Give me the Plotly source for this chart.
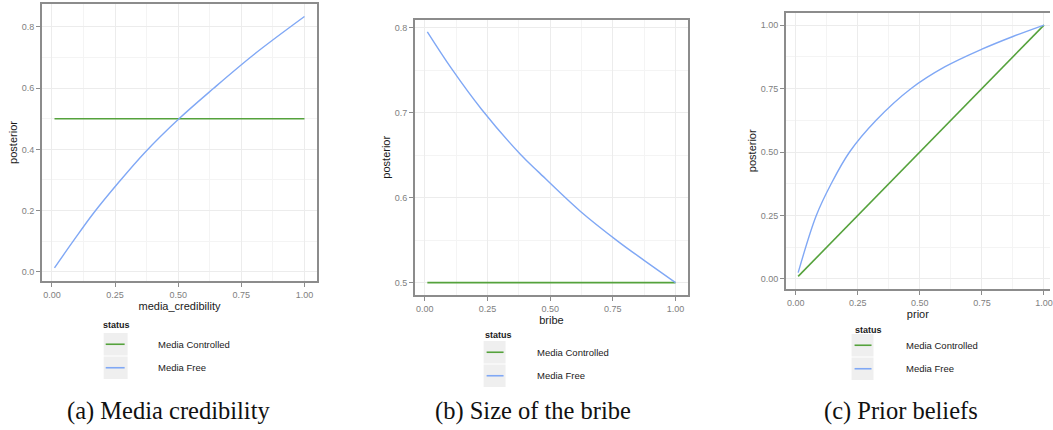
import plotly.graph_objects as go

W, H = 1053, 430

# ---------------- data ----------------
series_names = ["Media Controlled", "Media Free"]
colors = {"Media Controlled": "#55a23c", "Media Free": "#80a8f5"}

# (a) media credibility
cred_controlled_x = [0.01, 1.0]
cred_controlled_y = [0.5, 0.5]
cred_free_x = [0.01, 0.084, 0.165, 0.262, 0.368, 0.503, 0.638, 0.80, 1.0]
cred_free_y = [0.013, 0.1, 0.192, 0.29, 0.39, 0.5, 0.598, 0.71, 0.834]

# (b) size of the bribe
bribe_controlled_x = [0.01, 1.0]
bribe_controlled_y = [0.5, 0.5]
bribe_free_x = [0.01, 0.106, 0.226, 0.381, 0.454, 0.62, 0.773, 0.876, 1.0]
bribe_free_y = [0.795, 0.752, 0.704, 0.651, 0.63, 0.584, 0.548, 0.526, 0.5]

# (c) prior beliefs
prior_controlled_x = [0.01, 1.0]
prior_controlled_y = [0.01, 1.0]
prior_free_x = [0.01, 0.083, 0.143, 0.217, 0.324, 0.465, 0.6, 0.75, 0.875, 1.0]
prior_free_y = [0.025, 0.25, 0.375, 0.5, 0.625, 0.75, 0.835, 0.905, 0.955, 1.0]

x_titles = ["media_credibility", "bribe", "prior"]
captions = ["(a) Media credibility", "(b) Size of the bribe", "(c) Prior beliefs"]
x_ticks = [0, 0.25, 0.5, 0.75, 1.0]
x_ticktext = ["0.00", "0.25", "0.50", "0.75", "1.00"]
ya_ticks = [0, 0.2, 0.4, 0.6, 0.8]
ya_ticktext = ["0.0", "0.2", "0.4", "0.6", "0.8"]
yb_ticks = [0.5, 0.6, 0.7, 0.8]
yb_ticktext = ["0.5", "0.6", "0.7", "0.8"]
yc_ticks = [0, 0.25, 0.5, 0.75, 1.0]
yc_ticktext = ["0.00", "0.25", "0.50", "0.75", "1.00"]


def px(x):
    return x / W


def py(y):
    return 1 - y / H


fig = go.Figure()

panels = [
    (cred_controlled_x, cred_controlled_y, cred_free_x, cred_free_y),
    (bribe_controlled_x, bribe_controlled_y, bribe_free_x, bribe_free_y),
    (prior_controlled_x, prior_controlled_y, prior_free_x, prior_free_y),
]
for i, (cx, cy, fx, fy) in enumerate(panels):
    xa = "x" if i == 0 else f"x{i+1}"
    ya = "y" if i == 0 else f"y{i+1}"
    fig.add_trace(go.Scatter(x=cx, y=cy, mode="lines", name=series_names[0],
                             line=dict(color=colors[series_names[0]], width=1.6),
                             xaxis=xa, yaxis=ya, showlegend=False))
    fig.add_trace(go.Scatter(x=fx, y=fy, mode="lines", name=series_names[1],
                             line=dict(color=colors[series_names[1]], width=1.4,
                                       shape="spline", smoothing=1.0),
                             xaxis=xa, yaxis=ya, showlegend=False))

tick_font = dict(family="Liberation Sans, Arial, sans-serif", size=9, color="#808080")
title_font = dict(family="Liberation Sans, Arial, sans-serif", size=11, color="#1a1a1a")
grid_major = "#ececec"
grid_minor = "#f4f4f4"


def xaxis_cfg(domain, rng, title, mirror=True):
    return dict(domain=[px(domain[0]), px(domain[1])], range=rng,
                tickvals=x_ticks, ticktext=x_ticktext, tickfont=tick_font,
                ticks="outside", ticklen=4, tickcolor="#8c8c8c", tickwidth=1,
                showline=True, linecolor="#8c8c8c", linewidth=1.5, mirror=mirror,
                showgrid=True, gridcolor=grid_major, gridwidth=0.7,
                minor=dict(tickvals=[0.125, 0.375, 0.625, 0.875], showgrid=True,
                           gridcolor=grid_minor, gridwidth=0.6, ticklen=0),
                zeroline=False, fixedrange=True, ticklabeloverflow="allow",
                title=dict(text=title, font=title_font, standoff=2))


def yaxis_cfg(domain, rng, tv, tt, minor_vals, anchor, mirror=True):
    return dict(domain=[py(domain[1]), py(domain[0])], range=rng,
                tickvals=tv, ticktext=tt, tickfont=tick_font,
                ticks="outside", ticklen=4, tickcolor="#8c8c8c", tickwidth=1,
                showline=True, linecolor="#8c8c8c", linewidth=1.5, mirror=mirror,
                showgrid=True, gridcolor=grid_major, gridwidth=0.7,
                minor=dict(tickvals=minor_vals, showgrid=True,
                           gridcolor=grid_minor, gridwidth=0.6, ticklen=0),
                zeroline=False, fixedrange=True, anchor=anchor,
                title=dict(text="posterior", font=title_font, standoff=2))


layout = dict(
    width=W, height=H, margin=dict(l=0, r=0, t=0, b=0),
    paper_bgcolor="white", plot_bgcolor="white", showlegend=False,
    xaxis=dict(xaxis_cfg((42, 318), [-0.04, 1.05], x_titles[0]), anchor="y"),
    yaxis=yaxis_cfg((4, 281), [-0.03, 0.875], ya_ticks, ya_ticktext,
                    [0.1, 0.3, 0.5, 0.7], "x"),
    xaxis2=dict(xaxis_cfg((416, 690), [-0.04, 1.05], x_titles[1]), anchor="y2"),
    yaxis2=yaxis_cfg((19.5, 295), [0.4855, 0.8095], yb_ticks, yb_ticktext,
                     [0.55, 0.65, 0.75], "x2"),
    xaxis3=dict(xaxis_cfg((788, 1053), [-0.04, 1.0243], x_titles[2]), anchor="y3"),
    yaxis3=yaxis_cfg((12.5, 289), [-0.0395, 1.0495], yc_ticks, yc_ticktext,
                     [0.125, 0.375, 0.625, 0.875], "x3", mirror=False),
)
fig.update_layout(**layout)

# ---------------- manual legends (ggplot-style) ----------------
legend_font = dict(family="Liberation Sans, Arial, sans-serif", size=9.5, color="#1a1a1a")
legend_specs = [
    # status_x, status_y, box_left, box_right, box_top, key_x0, key_x1, label_x
    (101, 325, 104, 128, 333, 106, 125, 156),
    (484, 335, 485, 507, 341, 488, 505, 537),
    (855, 330, 854, 876, 334, 857, 874, 907),
]
shapes = []
annotations = []
for (sx, sy, bl, br, bt, k0, k1, lx) in legend_specs:
    annotations.append(dict(x=px(sx), y=py(sy), xref="paper", yref="paper",
                            text="<b>status</b>", showarrow=False, xanchor="left",
                            yanchor="middle",
                            font=dict(family="Liberation Sans, Arial, sans-serif",
                                      size=9, color="#1a1a1a")))
    for j, name in enumerate(series_names):
        top = bt + j * 23.5
        bot = top + 22.5
        shapes.append(dict(type="rect", xref="paper", yref="paper",
                           x0=px(bl), x1=px(br), y0=py(bot), y1=py(top),
                           fillcolor="#efefef", line=dict(width=0), layer="below"))
        mid = (top + bot) / 2
        shapes.append(dict(type="line", xref="paper", yref="paper",
                           x0=px(k0), x1=px(k1), y0=py(mid), y1=py(mid),
                           line=dict(color=colors[name], width=1.6)))
        annotations.append(dict(x=px(lx), y=py(mid), xref="paper", yref="paper",
                                text=name, showarrow=False, xanchor="left",
                                yanchor="middle", font=legend_font))

cap_x = [169, 535, 904]
for cx, cap in zip(cap_x, captions):
    annotations.append(dict(x=px(cx), y=py(411), xref="paper", yref="paper",
                            text=cap, showarrow=False, xanchor="center",
                            yanchor="middle",
                            font=dict(family="Liberation Serif, serif", size=24.5,
                                      color="#111111")))

fig.update_layout(shapes=shapes, annotations=annotations)

fig.write_html("out.html", config={"displayModeBar": False},
               post_script="document.body.style.margin='0';document.body.style.overflow='hidden';")
